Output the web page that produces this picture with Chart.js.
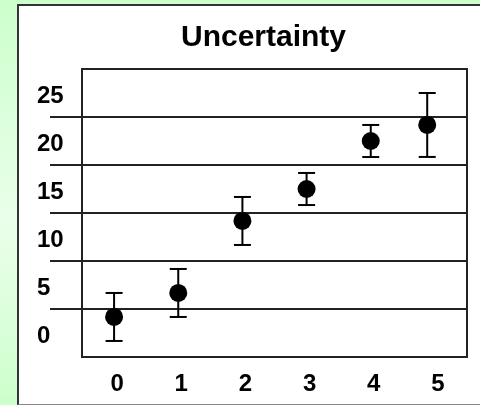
<!DOCTYPE html>
<html>
<head>
<meta charset="utf-8">
<script src="https://cdn.jsdelivr.net/npm/chart.js@4.4.1/dist/chart.umd.min.js"></script>
<style>
  html, body { margin: 0; padding: 0; width: 480px; height: 405px; overflow: hidden; }
  body { background: linear-gradient(to bottom, #ccffcc 0%, #eaffea 55%, #ccffcc 100%); position: relative; }
  #panel { position: absolute; left: 17px; top: 4px; width: 480px; height: 398px; background: #ffffff;
           border-left: 2px solid #333333; border-top: 2px solid #333333; border-bottom: 1px solid #888888; }
  #c { position: absolute; left: 0; top: 0; }
</style>
</head>
<body>
<div id="panel"></div>
<canvas id="c" width="490" height="405"></canvas>
<script>
// ---- data ----
const chartTitle = 'Uncertainty';
const xValues = [0, 1, 2, 3, 4, 4.88];
const yValues = [1.67, 4.17, 11.67, 15, 20, 21.67];
const yErrors = [2.5, 2.5, 2.5, 1.67, 1.67, 3.33];
const xTickValues = [0, 1, 2, 3, 4, 5];
const xTickLabels = ['0', '1', '2', '3', '4', '5'];
// horizontal rules sit half a step below each label
const yGridValues = [-2.5, 2.5, 7.5, 12.5, 17.5, 22.5, 27.5];
const yTickLabels = ['', '0', '5', '10', '15', '20', '25'];

const points = xValues.map((x, i) => ({ x: x, y: yValues[i] }));
const errorSegments = [];
xValues.forEach((x, i) => {
  errorSegments.push({ x: x, y: yValues[i] - yErrors[i] });
  errorSegments.push({ x: x, y: yValues[i] + yErrors[i] });
  errorSegments.push({ x: x, y: null });
});

const FONT = "'Liberation Sans', Arial, Helvetica, sans-serif";
const INK = '#222222';

new Chart(document.getElementById('c'), {
  type: 'scatter',
  data: {
    datasets: [
      {
        label: 'values',
        data: points,
        order: 0,
        pointRadius: 9,
        pointHoverRadius: 9,
        pointBackgroundColor: '#000000',
        pointBorderColor: '#000000',
        pointBorderWidth: 0
      },
      {
        label: 'error',
        data: errorSegments,
        order: 1,
        showLine: true,
        spanGaps: false,
        borderColor: '#000000',
        borderWidth: 2,
        pointStyle: 'line',
        pointRadius: 8.5,
        pointHoverRadius: 8.5,
        pointBorderWidth: 2,
        pointBorderColor: '#000000'
      }
    ]
  },
  options: {
    responsive: false,
    devicePixelRatio: 1,
    animation: false,
    layout: { padding: { left: 37, right: 0, top: 0, bottom: 0 } },
    plugins: {
      legend: { display: false },
      tooltip: { enabled: false },
      title: {
        display: true,
        text: chartTitle,
        color: '#000000',
        font: { family: FONT, size: 30, weight: 'bold', lineHeight: 1.2 },
        padding: { top: 20, bottom: 13 }
      }
    },
    scales: {
      x: {
        type: 'linear',
        position: 'bottom',
        min: -0.5,
        max: 5.5,
        afterBuildTicks: (s) => { s.ticks = xTickValues.map(v => ({ value: v })); },
        afterFit: (s) => { s.height = 48; },
        grid: { display: false, drawTicks: false },
        border: { display: true, color: INK, width: 2 },
        ticks: {
          color: '#000000',
          font: { family: FONT, size: 24, weight: 'bold' },
          padding: 13,
          labelOffset: 3,
          maxRotation: 0,
          autoSkip: false,
          callback: (v, i) => xTickLabels[i]
        }
      },
      y: {
        type: 'linear',
        position: 'left',
        min: -2.5,
        max: 27.5,
        afterBuildTicks: (s) => { s.ticks = yGridValues.map(v => ({ value: v })); },
        afterFit: (s) => { s.width = 45; },
        grid: {
          display: true,
          color: INK,
          lineWidth: 2,
          drawTicks: true,
          tickLength: 32,
          tickWidth: 2,
          tickColor: (ctx) => (ctx.index === 0 || ctx.index === yGridValues.length - 1) ? 'rgba(0,0,0,0)' : INK
        },
        border: { display: true, color: INK, width: 2 },
        ticks: {
          color: '#000000',
          font: { family: FONT, size: 24, weight: 'bold' },
          crossAlign: 'far',
          labelOffset: 27,
          autoSkip: false,
          callback: (v, i) => yTickLabels[i]
        }
      },
      y2: {
        type: 'linear',
        position: 'right',
        min: -2.5,
        max: 27.5,
        afterFit: (s) => { s.width = 23; },
        grid: { display: false, drawTicks: false },
        border: { display: true, color: INK, width: 2 },
        ticks: { display: false }
      }
    }
  }
});
</script>
</body>
</html>
